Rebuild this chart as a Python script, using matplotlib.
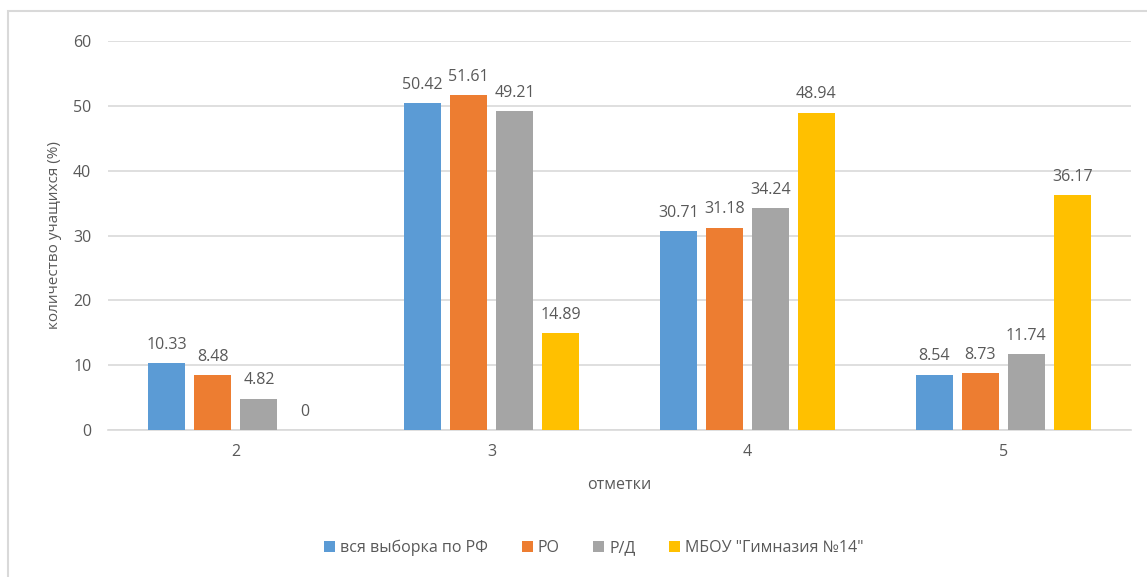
import numpy as np
import matplotlib.pyplot as plt
from matplotlib.patches import Rectangle

categories = ['2', '3', '4', '5']
series_names = ['вся выборка по РФ', 'РО', 'Р/Д', 'МБОУ "Гимназия №14"']
rf = [10.33, 50.42, 30.71, 8.54]
ro = [8.48, 51.61, 31.18, 8.73]
rd = [4.82, 49.21, 34.24, 11.74]
gym = [0, 14.89, 48.94, 36.17]
colors = ['#5b9bd5', '#ed7d31', '#a5a5a5', '#ffc000']

txt = '#595959'
plt.rcParams['font.family'] = ['Open Sans', 'DejaVu Sans']

fig = plt.figure(figsize=(11.47, 5.77), dpi=100)
# outer chart border
fig.patches.append(Rectangle((8 / 1147, -0.1), 1.2, 1 - 11 / 577 + 0.1,
                             transform=fig.transFigure, fill=False,
                             edgecolor='#d9d9d9', linewidth=1.5))

ax = fig.add_axes([108 / 1147, 1 - 430 / 577, (1131 - 108) / 1147, (430 - 41) / 577])
x = np.arange(len(categories))
width = 0.145
step = 0.18
for i, (vals, name) in enumerate(zip([rf, ro, rd, gym], series_names)):
    pos = x + (i - 1.5) * step
    ax.bar(pos, vals, width, color=colors[i], label=name, zorder=3)
    for xp, v in zip(pos, vals):
        ax.text(xp, v + 1.6, f'{v:g}', ha='center', va='bottom',
                fontsize=11.5, color=txt)

ax.set_xlim(-0.5, 3.5)
ax.set_ylim(0, 60)
ax.set_yticks(range(0, 61, 10))
ax.set_xticks(x)
ax.set_xticklabels(categories)
ax.grid(axis='y', color='#d9d9d9', linewidth=1.2, zorder=0)
for s in ['top', 'right', 'left']:
    ax.spines[s].set_visible(False)
ax.spines['bottom'].set_color('#d9d9d9')
ax.spines['bottom'].set_linewidth(1.2)
ax.tick_params(axis='both', length=0, labelsize=11.5, colors=txt)
ax.tick_params(axis='y', pad=12)
ax.tick_params(axis='x', pad=10)
ax.set_xlabel('отметки', fontsize=11.5, color=txt, labelpad=12)
ax.set_ylabel('количество учащихся (%)', fontsize=11, color=txt, labelpad=8)

fig.legend(loc='center', bbox_to_anchor=(594 / 1147, 1 - 548 / 577), ncol=4,
           frameon=False, fontsize=11.5, labelcolor=txt, handlelength=0.7,
           handleheight=0.7, handletextpad=0.3, columnspacing=2.1)

fig.savefig('out.png', dpi=100)
